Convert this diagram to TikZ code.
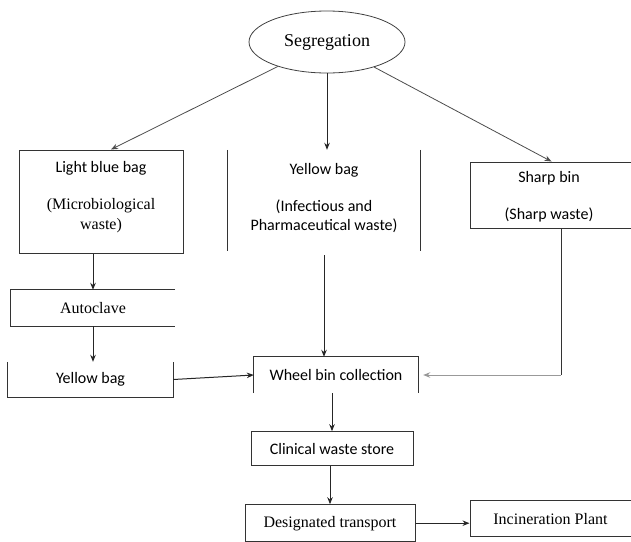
\documentclass[tikz,border=0pt]{standalone}
\usepackage{fontspec}
\setmainfont{Carlito}
\newfontfamily\serifface{Liberation Serif}
\usetikzlibrary{shapes.geometric,arrows.meta,positioning}

\begin{document}
\begin{tikzpicture}[x=1pt, y=-1pt, font=\fontsize{16}{20}\selectfont,
    wbox/.style={rectangle, draw=black!80, line width=1pt, inner sep=0pt},
    obox/.style={rectangle, inner sep=0pt},
    side/.style={draw=black!80, line width=1pt},
    flow/.style={-{Stealth[length=7pt,width=5.5pt]}, draw=black!85, line width=1pt},
    slant/.style={flow, draw=black!70, line width=0.8pt}]

    \useasboundingbox (0,0) rectangle (631,541);
    \clip (0,0) rectangle (631,541);

    % top
    \node[draw=black!75, line width=0.8pt, ellipse, minimum width=156pt, minimum height=62pt,
          font=\serifface\fontsize{18}{20}\selectfont] (seg) at (327,42) {Segregation};

    % three bins
    \node[wbox, minimum width=164pt, minimum height=103pt] (lbb) at (101,201.5) {};
    \node[align=center] (lbbtxt) at (101,197.5) {Light blue bag\\[17pt]{\serifface (Microbiological}\\{\serifface waste)}};

    \node[obox, minimum width=192pt, minimum height=101pt] (ybag) at (324,200.5) {};
    \node[align=center, font=\fontsize{16}{19}\selectfont] (ybagtxt) at (324,198) {Yellow bag\\[18pt](Infectious and\\Pharmaceutical waste)};
    \draw[side] (ybag.north west) -- (ybag.south west) (ybag.north east) -- (ybag.south east);

    \node[wbox, minimum width=163pt, minimum height=66pt] (sharp) at (551.5,195) {};
    \node[align=center] (sharptxt) at (549,196.5) {Sharp bin\\[17pt](Sharp waste)};

    % left branch
    \node[obox, minimum width=164pt, minimum height=36pt, font=\serifface\fontsize{16}{20}\selectfont] (auto) at (93,308) {Autoclave};
    \draw[side] (auto.north east) -- (auto.north west) -- (auto.south west) -- (auto.south east);

    \node[obox, minimum width=165pt, minimum height=35pt] (ylow) at (90.5,379.5) {Yellow bag};
    \draw[side] (ylow.north west) -- (ylow.south west) -- (ylow.south east) -- (ylow.north east);

    % main line
    \node[obox, minimum width=164pt, minimum height=36pt] (wheel) at (336,375) {Wheel bin collection};
    \draw[side] (wheel.south west) -- (wheel.north west) -- (wheel.north east) -- (wheel.south east);

    \node[wbox, minimum width=162pt, minimum height=34pt, below=38pt of wheel, xshift=-4pt] (clin) {Clinical waste store};
    \node[wbox, minimum width=170pt, minimum height=37pt, below=38pt of clin, xshift=-2pt,
          font=\serifface\fontsize{16}{20}\selectfont] (design) {Designated transport};
    \node[wbox, minimum width=161pt, minimum height=36pt, right=54pt of design, yshift=4.5pt,
          font=\serifface\fontsize{16}{20}\selectfont] (incin) {Incineration Plant};

    \coordinate (bend) at (561,375);

    \draw[slant] (seg) -- ([xshift=10pt]lbb.north);
    \draw[flow] (seg.south) -- (seg.south |- ybag.north);
    \draw[slant] (seg) -- (sharp.north);

    \draw[flow] (auto.north |- lbb.south) -- (auto.north);
    \draw[flow] (auto.south) -- (auto.south |- ylow.north);
    \draw[flow] (ylow.east) -- (wheel.west);
    \draw[flow] ([yshift=-4pt]ybag.south) -- (ybag.south |- wheel.north);
    \draw[side] (sharp.south -| bend) -- (bend);
    \draw[flow, draw=black!40] (bend) -- ([xshift=5pt]wheel.east);
    \draw[flow] (clin.north |- wheel.south) -- (clin.north);
    \draw[flow] (design.north |- clin.south) -- (design.north);
    \draw[flow] (design.east) -- (design.east -| incin.west);

\end{tikzpicture}
\end{document}
